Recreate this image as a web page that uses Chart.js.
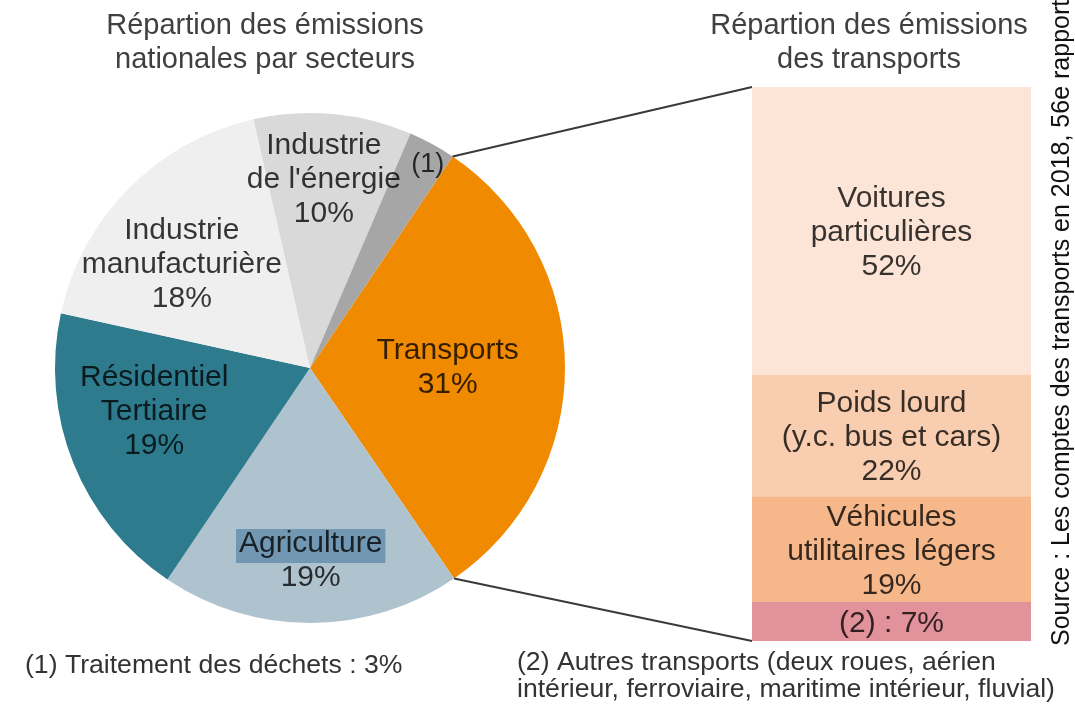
<!DOCTYPE html>
<html>
<head>
<meta charset="utf-8">
<script src="https://cdn.jsdelivr.net/npm/chart.js@4.4.1/dist/chart.umd.min.js"></script>
<style>
  html, body { margin: 0; padding: 0; background: #fff; }
  #wrap { position: relative; width: 1075px; height: 705px; overflow: hidden; }
  #pieChart { position: absolute; left: 0; top: 0; }
  #barChart { position: absolute; left: 752px; top: 87px; }
</style>
</head>
<body>
<div id="wrap">
  <canvas id="pieChart" width="1075" height="705"></canvas>
  <canvas id="barChart" width="279" height="554"></canvas>
</div>
<script>
// data
const sectors = ['Transports', 'Agriculture', 'Résidentiel Tertiaire', 'Industrie manufacturière', "Industrie de l'énergie", 'Traitement des déchets'];
const sectorShares = [31, 19, 19, 18, 10, 3];
const sectorLines = [['Transports'], ['Agriculture'], ['Résidentiel', 'Tertiaire'], ['Industrie', 'manufacturière'], ['Industrie', "de l'énergie"], ['(1)']];

const transportModes = ['Voitures particulières', 'Poids lourd (y.c. bus et cars)', 'Véhicules utilitaires légers', 'Autres transports'];
const transportShares = [52, 22, 19, 7];
const transportLines = [['Voitures', 'particulières'], ['Poids lourd', '(y.c. bus et cars)'], ['Véhicules', 'utilitaires légers'], ['(2) : 7%']];

const pieTitle = ['Répartion des émissions', 'nationales par secteurs'];
const barTitle = ['Répartion des émissions', 'des transports'];
const note1 = '(1) Traitement des déchets : 3%';
const note2 = ['(2) Autres transports (deux roues, aérien', 'intérieur, ferroviaire, maritime intérieur, fluvial)'];
const sourceText = 'Source : Les comptes des transports en 2018, 56e rapport de la Commission des comptes des transports de la Nation';

// styles
const sectorColors = ['#f08a00', '#afc3cf', '#2f7b8e', '#efefef', '#d9d9d9', '#a6a6a6'];
const modeColors = ['#fce4d6', '#f9cdb0', '#f6b88b', '#e2929a'];
const labelPos = [[0.54, 0], [0.757, 0], [0.635, 6], [0.645, -6], [0.74, -1], [0.92, 1.5]]; // radius fraction, angle shift
const FONT = '"Liberation Sans", Arial, sans-serif';
const LINE = 34;

const pieEl = document.getElementById('pieChart');
const barEl = document.getElementById('barChart');

function drawLines(ctx, lines, x, y) {
  const top = y - (lines.length - 1) * LINE / 2;
  lines.forEach((t, i) => ctx.fillText(t, x, top + i * LINE));
}

const barLabels = {
  id: 'barLabels',
  afterDatasetsDraw(chart) {
    const ctx = chart.ctx;
    ctx.save();
    ctx.font = '30px ' + FONT;
    ctx.fillStyle = 'rgba(0,0,0,0.78)';
    ctx.textAlign = 'center';
    ctx.textBaseline = 'middle';
    chart.data.datasets.forEach((ds, di) => {
      const el = chart.getDatasetMeta(di).data[0];
      const mode = ds.modeIndex;
      const lines = transportLines[mode].slice();
      if (mode < transportLines.length - 1) lines.push(transportShares[mode] + '%');
      drawLines(ctx, lines, el.x, (el.y + el.base) / 2 + 2);
    });
    ctx.restore();
  }
};

// first dataset sits at the bottom of the stack, so go in reverse
const barDatasets = transportModes.map((m, i) => i).reverse().map((i) => ({
  label: transportModes[i],
  data: [transportShares[i]],
  backgroundColor: modeColors[i],
  borderWidth: 0,
  barPercentage: 1,
  categoryPercentage: 1,
  modeIndex: i
}));

const barChart = new Chart(barEl, {
  type: 'bar',
  data: { labels: ['Transports'], datasets: barDatasets },
  options: {
    responsive: false,
    animation: false,
    layout: { padding: 0 },
    plugins: { legend: { display: false }, tooltip: { enabled: false } },
    scales: {
      x: { display: false, stacked: true },
      y: { display: false, stacked: true, min: 0, max: 100 }
    }
  },
  plugins: [barLabels]
});

const pieExtras = {
  id: 'pieExtras',
  afterDatasetsDraw(chart) {
    const ctx = chart.ctx;
    const arcs = chart.getDatasetMeta(0).data;
    ctx.save();
    ctx.textAlign = 'center';
    ctx.textBaseline = 'middle';

    // connectors from the transport slice to the bar
    const first = arcs[0];
    const bx = barEl.offsetLeft + barChart.chartArea.left;
    const byTop = barEl.offsetTop + barChart.chartArea.top;
    const byBot = barEl.offsetTop + barChart.chartArea.bottom;
    ctx.strokeStyle = '#3a3a3a';
    ctx.lineWidth = 2;
    [[first.startAngle, byTop], [first.endAngle, byBot]].forEach(([a, by]) => {
      ctx.beginPath();
      ctx.moveTo(first.x + Math.cos(a) * first.outerRadius, first.y + Math.sin(a) * first.outerRadius);
      ctx.lineTo(bx, by);
      ctx.stroke();
    });

    // slice labels
    arcs.forEach((arc, i) => {
      const [rf, shift] = labelPos[i];
      const a = (arc.startAngle + arc.endAngle) / 2 + shift * Math.PI / 180;
      const x = arc.x + Math.cos(a) * arc.outerRadius * rf;
      const y = arc.y + Math.sin(a) * arc.outerRadius * rf;
      const lines = sectorLines[i].slice();
      if (i < sectors.length - 1) lines.push(sectorShares[i] + '%');
      ctx.font = (i === sectors.length - 1 ? '27px ' : '30px ') + FONT;
      if (sectors[i] === 'Agriculture') {
        const w = ctx.measureText(lines[0]).width;
        const ty = y - (lines.length - 1) * LINE / 2;
        ctx.fillStyle = '#7197b3';
        ctx.fillRect(x - w / 2 - 3, ty - 15, w + 6, 34);
      }
      ctx.fillStyle = 'rgba(0,0,0,0.78)';
      drawLines(ctx, lines, x, y);
    });

    // titles
    ctx.fillStyle = '#404040';
    ctx.font = '29px ' + FONT;
    drawLines(ctx, pieTitle, 265, 43);
    drawLines(ctx, barTitle, 869, 43);

    // footnotes
    ctx.textAlign = 'left';
    ctx.font = '26.6px ' + FONT;
    ctx.fillStyle = '#333';
    ctx.fillText(note1, 25, 666);
    note2.forEach((t, i) => ctx.fillText(t, 517, 663 + i * 27));

    // source, rotated along the right edge
    ctx.translate(1062, 646);
    ctx.rotate(-Math.PI / 2);
    ctx.fillStyle = '#111';
    ctx.font = '25px ' + FONT;
    ctx.fillText(sourceText, 0, 0);
    ctx.restore();
  }
};

new Chart(pieEl, {
  type: 'pie',
  data: {
    labels: sectors,
    datasets: [{
      data: sectorShares,
      backgroundColor: sectorColors,
      borderWidth: 0,
      hoverOffset: 0,
      offset: 0
    }]
  },
  options: {
    responsive: false,
    animation: false,
    rotation: 34,
    layout: { padding: { left: 55, right: 510, top: 113, bottom: 82 } },
    plugins: { legend: { display: false }, tooltip: { enabled: false } }
  },
  plugins: [pieExtras]
});
</script>
</body>
</html>
